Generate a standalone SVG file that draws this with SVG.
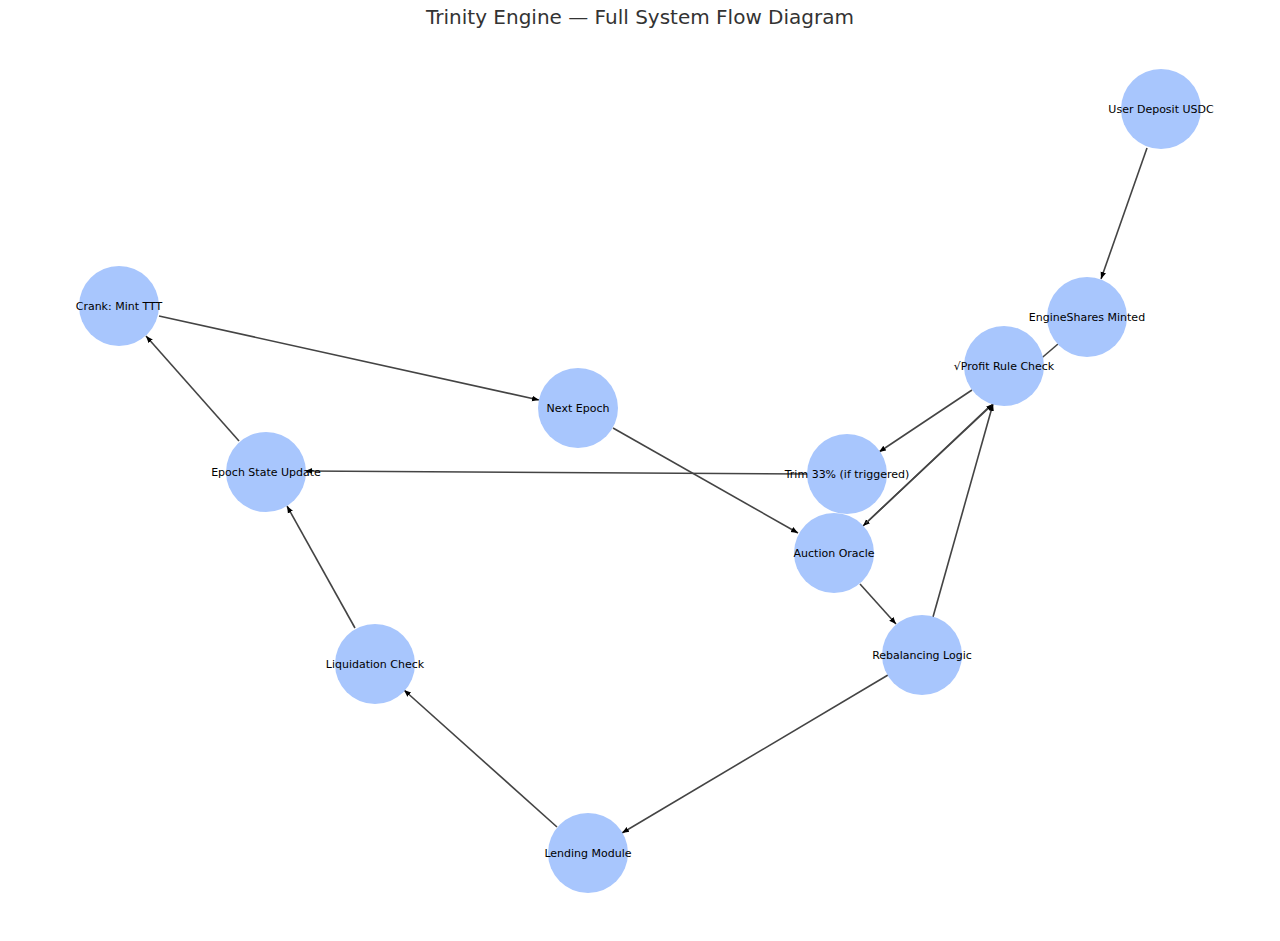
<svg xmlns="http://www.w3.org/2000/svg" width="1280" height="941" viewBox="0 0 1280 941">
<style>
.n{fill:#a8c6fd}
.t{font-family:"DejaVu Sans",sans-serif;font-size:11px;fill:#000;text-anchor:middle;dominant-baseline:central}
.e{stroke:#444;stroke-width:1.6;fill:none;marker-end:url(#a)}
.p{stroke:#444;stroke-width:1.6;fill:none}
</style>
<defs><marker id="a" viewBox="0 0 10 10" refX="10" refY="5" markerWidth="7" markerHeight="7" orient="auto" markerUnits="userSpaceOnUse"><path d="M0,1 L10,5 L0,9 z" fill="#000"/></marker></defs>
<rect width="1280" height="941" fill="#fff"/>
<text x="640" y="24" style="font-family:'DejaVu Sans',sans-serif;font-size:20px;fill:#333;text-anchor:middle">Trinity Engine — Full System Flow Diagram</text>
<g id="edges">
<line class="e" x1="1147" y1="148" x2="1101" y2="279"/>
<line class="p" x1="1058" y1="344" x2="1030" y2="368"/>
<line class="e" x1="972" y1="390" x2="879" y2="452"/>
<line class="e" x1="990" y1="406" x2="863" y2="526"/>
<line class="e" x1="866" y1="523" x2="993" y2="404"/>
<line class="e" x1="807" y1="474" x2="305" y2="471"/>
<line class="e" x1="860" y1="584" x2="896" y2="624"/>
<line class="e" x1="933" y1="617" x2="993" y2="404"/>
<line class="e" x1="888" y1="675" x2="622" y2="833"/>
<line class="e" x1="557" y1="827" x2="404" y2="690"/>
<line class="e" x1="355" y1="628" x2="287" y2="506"/>
<line class="e" x1="239" y1="441" x2="146" y2="336"/>
<line class="e" x1="159" y1="316" x2="539" y2="400"/>
<line class="e" x1="613" y1="428" x2="798" y2="533"/>
</g>
<g id="n1"><circle class="n" cx="1161" cy="109" r="40"/><text class="t" x="1161" y="109">User Deposit USDC</text></g>
<g id="n2"><circle class="n" cx="1087" cy="317" r="40"/><text class="t" x="1087" y="317">EngineShares Minted</text></g>
<g id="n3"><circle class="n" cx="1004" cy="366" r="40"/><text class="t" x="1004" y="366">√Profit Rule Check</text></g>
<g id="n4"><circle class="n" cx="847" cy="474" r="40"/><text class="t" x="847" y="474">Trim 33% (if triggered)</text></g>
<g id="n5"><circle class="n" cx="834" cy="553" r="40"/><text class="t" x="834" y="553">Auction Oracle</text></g>
<g id="n6"><circle class="n" cx="922" cy="655" r="40"/><text class="t" x="922" y="655">Rebalancing Logic</text></g>
<g id="n7"><circle class="n" cx="588" cy="853" r="40"/><text class="t" x="588" y="853">Lending Module</text></g>
<g id="n8"><circle class="n" cx="375" cy="664" r="40"/><text class="t" x="375" y="664">Liquidation Check</text></g>
<g id="n9"><circle class="n" cx="266" cy="472" r="40"/><text class="t" x="266" y="472">Epoch State Update</text></g>
<g id="n10"><circle class="n" cx="119" cy="306" r="40"/><text class="t" x="119" y="306">Crank: Mint TTT</text></g>
<g id="n11"><circle class="n" cx="578" cy="408" r="40"/><text class="t" x="578" y="408">Next Epoch</text></g>
</svg>
